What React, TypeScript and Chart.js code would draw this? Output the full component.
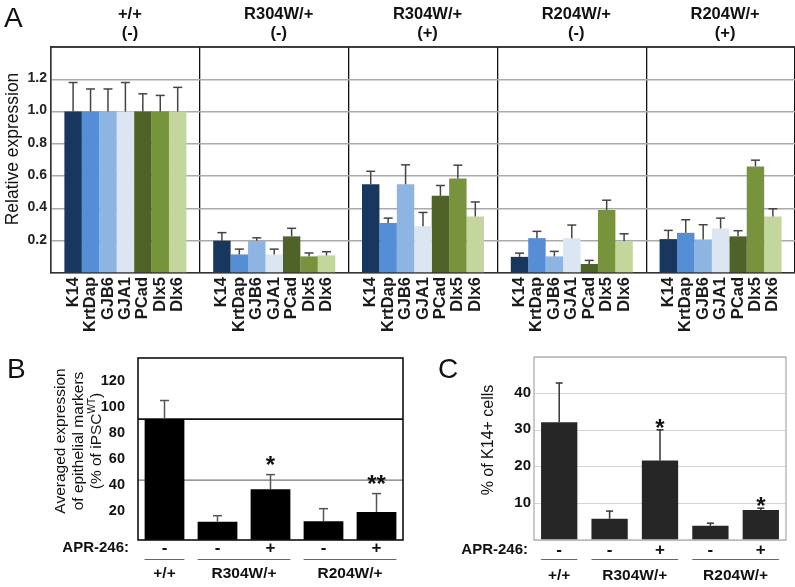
import React, { useEffect, useRef } from "react";
import { Chart, registerables } from "chart.js";

Chart.register(...registerables);

const FONT = "'Liberation Sans', Arial, Helvetica, sans-serif";
Chart.defaults.font.family = FONT;

// ---------------- Panel A data ----------------
const groupGenotype = ["+/+", "R304W/+", "R304W/+", "R204W/+", "R204W/+"];
const groupTreatment = ["(-)", "(-)", "(+)", "(-)", "(+)"];
const genes = ["K14", "KrtDap", "GJB6", "GJA1", "PCad", "Dlx5", "Dlx6"];
const geneColors = ["#17375E", "#558ED5", "#8EB4E3", "#DCE6F2", "#4F6228", "#77933C", "#C3D69B"];

const k14 = [1.0, 0.2, 0.55, 0.1, 0.21];
const krtDap = [1.0, 0.115, 0.31, 0.216, 0.249];
const gjb6 = [1.0, 0.2, 0.55, 0.103, 0.208];
const gja1 = [1.0, 0.115, 0.29, 0.216, 0.276];
const pcad = [1.0, 0.227, 0.478, 0.056, 0.227];
const dlx5 = [1.0, 0.103, 0.585, 0.391, 0.66];
const dlx6 = [1.0, 0.109, 0.35, 0.196, 0.35];

const k14Err = [0.18, 0.05, 0.08, 0.023, 0.054];
const krtDapErr = [0.14, 0.033, 0.03, 0.042, 0.081];
const gjb6Err = [0.14, 0.018, 0.12, 0.031, 0.091];
const gja1Err = [0.18, 0.033, 0.085, 0.081, 0.064];
const pcadErr = [0.11, 0.05, 0.064, 0.022, 0.035];
const dlx5Err = [0.1, 0.021, 0.083, 0.06, 0.039];
const dlx6Err = [0.15, 0.023, 0.09, 0.047, 0.048];

const aValues = [k14, krtDap, gjb6, gja1, pcad, dlx5, dlx6];
const aErrors = [k14Err, krtDapErr, gjb6Err, gja1Err, pcadErr, dlx5Err, dlx6Err];

// ---------------- Panel B / C data ----------------
const treatment = ["-", "-", "+", "-", "+"];
const genotypeLabels = ["+/+", "R304W/+", "R204W/+"];
const genotypeSpans = [[0, 0], [1, 2], [3, 4]];

const bValues = [93, 14.1, 39, 14.4, 21.6];
const bErrors = [14.3, 4.6, 11.3, 9.7, 14.1];
const bStars = ["", "", "*", "", "**"];
const bRefLines = [93, 46];

const cValues = [32.2, 5.8, 21.7, 3.9, 8.2];
const cErrors = [10.7, 2.1, 8.4, 0.7, 0.5];
const cStars = ["", "", "*", "", "*"];

const W = 795;
const H = 587;

function text(ctx: CanvasRenderingContext2D, s: string, x: number, y: number, font: string, align: CanvasTextAlign = "center", baseline: CanvasTextBaseline = "middle", color = "#111") {
  ctx.save();
  ctx.font = font;
  ctx.textAlign = align;
  ctx.textBaseline = baseline;
  ctx.fillStyle = color;
  ctx.fillText(s, x, y);
  ctx.restore();
}

function vtext(ctx: CanvasRenderingContext2D, s: string, x: number, y: number, font: string, align: CanvasTextAlign = "center", color = "#111") {
  ctx.save();
  ctx.translate(x, y);
  ctx.rotate(-Math.PI / 2);
  ctx.font = font;
  ctx.textAlign = align;
  ctx.textBaseline = "middle";
  ctx.fillStyle = color;
  ctx.fillText(s, 0, 0);
  ctx.restore();
}

function line(ctx: CanvasRenderingContext2D, x1: number, y1: number, x2: number, y2: number, color: string, w: number) {
  ctx.save();
  ctx.strokeStyle = color;
  ctx.lineWidth = w;
  ctx.beginPath();
  ctx.moveTo(x1, y1);
  ctx.lineTo(x2, y2);
  ctx.stroke();
  ctx.restore();
}

function errorBarPlugin(color: string, width: number, cap: number) {
  return {
    id: "errbars",
    afterDatasetsDraw(chart: any) {
      const ctx = chart.ctx;
      const ys = chart.scales.y;
      chart.data.datasets.forEach((ds: any, di: number) => {
        const meta = chart.getDatasetMeta(di);
        meta.data.forEach((el: any, i: number) => {
          const v = ds.data[i];
          const e = ds.errors[i];
          const y0 = ys.getPixelForValue(v);
          const y1 = ys.getPixelForValue(v + e);
          line(ctx, el.x, y0, el.x, y1, color, width);
          line(ctx, el.x - cap / 2, y1, el.x + cap / 2, y1, color, width);
        });
      });
    },
  };
}

function aDecor() {
  return {
    id: "adecor",
    afterDraw(chart: any) {
      const ctx = chart.ctx;
      const ca = chart.chartArea;
      const xs = chart.scales.x;
      line(ctx, ca.left, ca.top, ca.right, ca.top, "#111", 1.5);
      text(ctx, "A", 4, 27, `28px ${FONT}`, "left", "alphabetic", "#111");
      groupGenotype.forEach((g, i) => {
        const x = xs.getPixelForValue(i) + 4.5;
        text(ctx, g, x, 14, `bold 16.5px ${FONT}`);
        text(ctx, groupTreatment[i], x, 33, `bold 16.5px ${FONT}`);
      });
      chart.data.datasets.forEach((ds: any, di: number) => {
        const meta = chart.getDatasetMeta(di);
        meta.data.forEach((el: any) => {
          vtext(ctx, genes[di], el.x, ca.bottom + 4, `bold 16.5px ${FONT}`, "right", "#1a1a1a");
        });
      });
      vtext(ctx, "Relative expression", 13, 149, `17.5px ${FONT}`, "center", "#111");
    },
  };
}

function bottomRows(ctx: CanvasRenderingContext2D, chart: any, aprX: number, yApr: number, yLine: number, yGeno: number) {
  const meta = chart.getDatasetMeta(0);
  text(ctx, "APR-246:", aprX, yApr, `bold 15px ${FONT}`, "right");
  meta.data.forEach((el: any, i: number) => {
    text(ctx, treatment[i], el.x, yApr, `bold 17px ${FONT}`);
  });
  genotypeSpans.forEach((sp, gi) => {
    const a = meta.data[sp[0]];
    const b = meta.data[sp[1]];
    const l = a.x - a.width / 2;
    const r = b.x + b.width / 2;
    line(ctx, l, yLine, r, yLine, "#666", 1.2);
    text(ctx, genotypeLabels[gi], (l + r) / 2, yGeno, `bold 15.5px ${FONT}`);
  });
}

function bDecor() {
  return {
    id: "bdecor",
    beforeDatasetsDraw(chart: any) {
      const ctx = chart.ctx;
      const ca = chart.chartArea;
      const ys = chart.scales.y;
      bRefLines.forEach((v, i) => {
        const y = ys.getPixelForValue(v);
        line(ctx, ca.left, y, ca.right, y, i === 0 ? "#111" : "#777", i === 0 ? 1.6 : 1.2);
      });
    },
    afterDraw(chart: any) {
      const ctx = chart.ctx;
      const ca = chart.chartArea;
      const ys = chart.scales.y;
      ctx.save();
      ctx.strokeStyle = "#111";
      ctx.lineWidth = 1.6;
      ctx.strokeRect(ca.left, ca.top, ca.right - ca.left, ca.bottom - ca.top);
      ctx.restore();
      text(ctx, "B", 7, 378, `28px ${FONT}`, "left", "alphabetic", "#111");
      const meta = chart.getDatasetMeta(0);
      meta.data.forEach((el: any, i: number) => {
        if (!bStars[i]) return;
        const y = ys.getPixelForValue(bValues[i] + bErrors[i]);
        text(ctx, bStars[i], el.x, y - 2, `bold 24px ${FONT}`, "center", "alphabetic");
      });
      bottomRows(ctx, chart, 129, 548, 559.5, 574);
      // axis title (three lines, superscript)
      const f = `15.5px ${FONT}`;
      vtext(ctx, "Averaged expression", 61, 441, f);
      vtext(ctx, "of epithelial markers", 79, 441, f);
      ctx.save();
      ctx.translate(97, 441);
      ctx.rotate(-Math.PI / 2);
      ctx.fillStyle = "#111";
      ctx.textBaseline = "middle";
      ctx.textAlign = "left";
      const p1 = "(% of iPSC", p2 = "WT", p3 = ")";
      const fs = `10px ${FONT}`;
      ctx.font = f;
      const w1 = ctx.measureText(p1).width;
      const w3 = ctx.measureText(p3).width;
      ctx.font = fs;
      const w2 = ctx.measureText(p2).width;
      let x0 = -(w1 + w2 + w3) / 2;
      ctx.font = f;
      ctx.fillText(p1, x0, 0);
      ctx.font = fs;
      ctx.fillText(p2, x0 + w1, -5);
      ctx.font = f;
      ctx.fillText(p3, x0 + w1 + w2, 0);
      ctx.restore();
    },
  };
}

function cDecor() {
  return {
    id: "cdecor",
    afterDraw(chart: any) {
      const ctx = chart.ctx;
      const ca = chart.chartArea;
      const ys = chart.scales.y;
      ctx.save();
      ctx.strokeStyle = "#a8a8a8";
      ctx.lineWidth = 1.2;
      ctx.strokeRect(ca.left, ca.top, ca.right - ca.left, ca.bottom - ca.top);
      ctx.restore();
      text(ctx, "C", 438, 378, `28px ${FONT}`, "left", "alphabetic", "#111");
      const meta = chart.getDatasetMeta(0);
      meta.data.forEach((el: any, i: number) => {
        if (!cStars[i]) return;
        const y = ys.getPixelForValue(cValues[i] + cErrors[i]);
        text(ctx, cStars[i], el.x, y + 6, `bold 24px ${FONT}`, "center", "alphabetic");
      });
      bottomRows(ctx, chart, 528, 550, 559.5, 576);
      vtext(ctx, "% of K14+ cells", 489, 440, `16px ${FONT}`);
    },
  };
}

function makeA(canvas: HTMLCanvasElement) {
  return new Chart(canvas, {
    type: "bar",
    data: {
      labels: groupGenotype,
      datasets: genes.map((g, i) => ({
        label: g,
        data: aValues[i],
        errors: aErrors[i],
        backgroundColor: geneColors[i],
        borderWidth: 0,
        categoryPercentage: 0.82,
        barPercentage: 1.0,
      })) as any,
    },
    options: {
      animation: false,
      responsive: false,
      events: [],
      layout: { padding: { left: 0, right: 0, top: 47, bottom: H - 273 } },
      plugins: { legend: { display: false }, tooltip: { enabled: false } },
      scales: {
        x: {
          ticks: { display: false },
          grid: { color: "#111", lineWidth: 1.3, drawTicks: false, offset: true },
          border: { color: "#333", width: 1.5 },
          afterFit: (s: any) => { s.height = 0; },
        },
        y: {
          min: 0,
          max: 1.4,
          ticks: {
            stepSize: 0.2,
            padding: 4,
            color: "#222",
            font: { size: 14, weight: "bold" },
            labelOffset: -1,
            callback: (v: any) => (v <= 0 || v > 1.3 ? "" : Number(v).toFixed(1)),
          },
          grid: { color: "#aaaaaa", lineWidth: 1.5, drawTicks: false },
          border: { color: "#333", width: 1.5 },
          afterFit: (s: any) => { s.width = 51; },
        },
      },
    } as any,
    plugins: [errorBarPlugin("#444", 1.5, 9), aDecor()],
  });
}

function makeB(canvas: HTMLCanvasElement) {
  return new Chart(canvas, {
    type: "bar",
    data: {
      labels: treatment,
      datasets: [{ data: bValues, errors: bErrors, backgroundColor: "#000", borderWidth: 0, categoryPercentage: 0.75, barPercentage: 1.0 } as any],
    },
    options: {
      animation: false,
      responsive: false,
      events: [],
      layout: { padding: { left: 0, right: W - 403, top: 358, bottom: H - 540 } },
      plugins: { legend: { display: false }, tooltip: { enabled: false } },
      scales: {
        x: { display: false },
        y: {
          min: 0,
          max: 140,
          ticks: {
            stepSize: 20,
            padding: 5,
            color: "#111",
            font: { size: 14.5, weight: "bold" },
            labelOffset: -3,
            callback: (v: any) => (v <= 0 || v >= 140 ? "" : String(v)),
          },
          grid: { display: false },
          border: { display: false },
          afterFit: (s: any) => { s.width = 138; },
        },
      },
    } as any,
    plugins: [errorBarPlugin("#555", 1.5, 9), bDecor()],
  });
}

function makeC(canvas: HTMLCanvasElement) {
  return new Chart(canvas, {
    type: "bar",
    data: {
      labels: treatment,
      datasets: [{ data: cValues, errors: cErrors, backgroundColor: "#262626", borderWidth: 0, categoryPercentage: 0.72, barPercentage: 1.0 } as any],
    },
    options: {
      animation: false,
      responsive: false,
      events: [],
      layout: { padding: { left: 400, right: W - 786, top: 357, bottom: H - 540 } },
      plugins: { legend: { display: false }, tooltip: { enabled: false } },
      scales: {
        x: { display: false },
        y: {
          min: 0,
          max: 50,
          ticks: {
            stepSize: 5,
            padding: 3,
            color: "#111",
            font: { size: 15, weight: "bold" },
            labelOffset: -1,
            callback: (v: any) => (v > 0 && v < 50 && v % 10 === 0 ? String(v) : ""),
          },
          grid: { color: "#d4d4d4", lineWidth: 1, drawTicks: false },
          border: { display: false },
          afterFit: (s: any) => { s.width = 134; },
        },
      },
    } as any,
    plugins: [errorBarPlugin("#333", 1.5, 7), cDecor()],
  });
}

export default function App() {
  const ra = useRef<HTMLCanvasElement>(null);
  const rb = useRef<HTMLCanvasElement>(null);
  const rc = useRef<HTMLCanvasElement>(null);
  useEffect(() => {
    const a = makeA(ra.current!);
    const b = makeB(rb.current!);
    const c = makeC(rc.current!);
    return () => { a.destroy(); b.destroy(); c.destroy(); };
  }, []);
  const st: React.CSSProperties = { position: "absolute", left: 0, top: 0, width: W, height: H, display: "block" };
  return (
    <div style={{ position: "absolute", left: 0, top: 0, width: W, height: H, background: "#fff", overflow: "hidden" }}>
      <canvas ref={ra} width={W} height={H} style={st} />
      <canvas ref={rb} width={W} height={H} style={st} />
      <canvas ref={rc} width={W} height={H} style={st} />
    </div>
  );
}
